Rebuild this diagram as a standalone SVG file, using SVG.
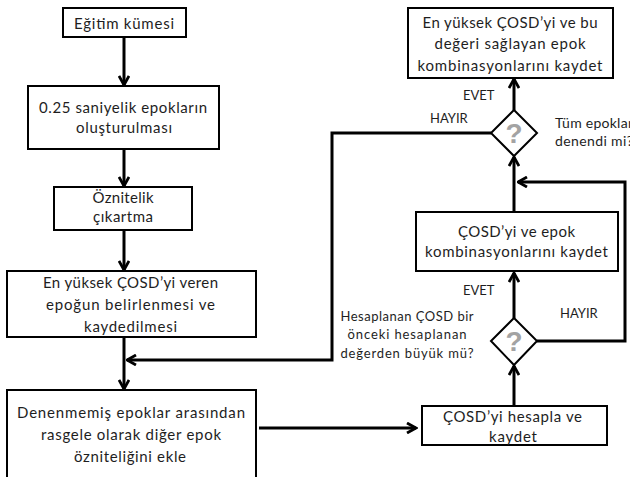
<svg xmlns="http://www.w3.org/2000/svg" width="630" height="477" viewBox="0 0 630 477">
<style>
.box{fill:#fff;stroke:#000;stroke-width:2}
.t{font-family:Lato,"Open Sans",sans-serif;font-size:15px;fill:#1e1e1e;text-anchor:middle}
.s{font-family:Lato,"Open Sans",sans-serif;font-size:13px;fill:#1e1e1e}
.c{stroke:#000;stroke-width:3;fill:none}
.q{font-family:"Liberation Sans",sans-serif;font-size:28px;font-weight:bold;fill:#a3a3a3;text-anchor:middle}
</style>
<defs>
<marker id="ah" viewBox="0 0 12 12" refX="10.5" refY="6" markerWidth="12" markerHeight="12" markerUnits="userSpaceOnUse" orient="auto">
<path d="M1.5,1 L10.5,6 L1.5,11" fill="none" stroke="#000" stroke-width="2.8"/>
</marker>
</defs>
<rect width="630" height="477" fill="#fff"/>
<g id="connectors">
<line class="c" x1="124" y1="37" x2="124" y2="85" marker-end="url(#ah)"/>
<line class="c" x1="124" y1="149" x2="124" y2="186" marker-end="url(#ah)"/>
<line class="c" x1="124" y1="230" x2="124" y2="270" marker-end="url(#ah)"/>
<line class="c" x1="124" y1="337" x2="124" y2="389" marker-end="url(#ah)"/>
<polyline class="c" points="491,133 332,133 332,360 127,360" marker-end="url(#ah)"/>
<line class="c" x1="259" y1="428" x2="416" y2="428" marker-end="url(#ah)"/>
<line class="c" x1="514" y1="406" x2="514" y2="366" marker-end="url(#ah)"/>
<line class="c" x1="514" y1="318" x2="514" y2="273" marker-end="url(#ah)"/>
<polyline class="c" points="537,341 625,341 625,182 518,182" marker-end="url(#ah)"/>
<line class="c" x1="514" y1="212" x2="514" y2="157" marker-end="url(#ah)"/>
<line class="c" x1="514" y1="110" x2="514" y2="79" marker-end="url(#ah)"/>
<text class="s" x="463" y="100">EVET</text>
<text class="s" x="430" y="123">HAYIR</text>
<text class="s" x="463" y="295">EVET</text>
<text class="s" x="560" y="318">HAYIR</text>
</g>
<g id="n1">
<rect class="box" x="63" y="8" width="123" height="29"/>
<text class="t" x="124" y="29" textLength="100" lengthAdjust="spacing">Eğitim kümesi</text>
</g>
<g id="n2">
<rect class="box" x="28" y="86" width="191" height="63"/>
<text class="t" x="123" y="113" textLength="168" lengthAdjust="spacing">0.25 saniyelik epokların</text>
<text class="t" x="124" y="133" textLength="96" lengthAdjust="spacing">oluşturulması</text>
</g>
<g id="n3">
<rect class="box" x="54" y="187" width="138" height="43"/>
<text class="t" x="123" y="203" textLength="61" lengthAdjust="spacing">Öznitelik</text>
<text class="t" x="123" y="222" textLength="60" lengthAdjust="spacing">çıkartma</text>
</g>
<g id="n4">
<rect class="box" x="7" y="271" width="249" height="66"/>
<text class="t" x="130.5" y="288" textLength="175" lengthAdjust="spacing">En yüksek ÇOSD’yi veren</text>
<text class="t" x="130.5" y="310" textLength="169" lengthAdjust="spacing">epoğun belirlenmesi ve</text>
<text class="t" x="130.5" y="332" textLength="93" lengthAdjust="spacing">kaydedilmesi</text>
</g>
<g id="n5">
<rect class="box" x="7" y="390" width="249" height="100"/>
<text class="t" x="131" y="418" textLength="228" lengthAdjust="spacing">Denenmemiş epoklar arasından</text>
<text class="t" x="131" y="440" textLength="180" lengthAdjust="spacing">rasgele olarak diğer epok</text>
<text class="t" x="130" y="462" textLength="112" lengthAdjust="spacing">özniteliğini ekle</text>
</g>
<g id="n6">
<rect class="box" x="422" y="406" width="185" height="39"/>
<text class="t" x="512.5" y="422" textLength="139" lengthAdjust="spacing">ÇOSD’yi hesapla ve</text>
<text class="t" x="513" y="442" textLength="48" lengthAdjust="spacing">kaydet</text>
</g>
<g id="d2">
<polygon points="514,318 537,341 514,365 491,341" fill="#fff" stroke="#000" stroke-width="2"/>
<text class="q" x="514" y="351">?</text>
<text class="s" x="407" y="321" text-anchor="middle" textLength="133" lengthAdjust="spacing">Hesaplanan ÇOSD bir</text>
<text class="s" x="407" y="339" text-anchor="middle" textLength="119" lengthAdjust="spacing">önceki hesaplanan</text>
<text class="s" x="407" y="358" text-anchor="middle" textLength="133" lengthAdjust="spacing">değerden büyük mü?</text>
</g>
<g id="n7">
<rect class="box" x="416" y="212" width="202" height="59"/>
<text class="t" x="516.5" y="237" textLength="117" lengthAdjust="spacing">ÇOSD’yi ve epok</text>
<text class="t" x="516.5" y="257" textLength="183" lengthAdjust="spacing">kombinasyonlarını kaydet</text>
</g>
<g id="d1">
<polygon points="514,110 537,133 514,156 491,133" fill="#fff" stroke="#000" stroke-width="2"/>
<text class="q" x="514" y="143">?</text>
<text class="s" x="555" y="128" style="font-size:14px" textLength="78" lengthAdjust="spacing">Tüm epoklar</text>
<text class="s" x="555" y="146" style="font-size:14px" textLength="78" lengthAdjust="spacing">denendi mi?</text>
</g>
<g id="n8">
<rect class="box" x="408" y="8" width="205" height="70"/>
<text class="t" x="510" y="28" textLength="175" lengthAdjust="spacing">En yüksek ÇOSD’yi ve bu</text>
<text class="t" x="510" y="49" textLength="151" lengthAdjust="spacing">değeri sağlayan epok</text>
<text class="t" x="510" y="71" textLength="185" lengthAdjust="spacing">kombinasyonlarını kaydet</text>
</g>
</svg>
